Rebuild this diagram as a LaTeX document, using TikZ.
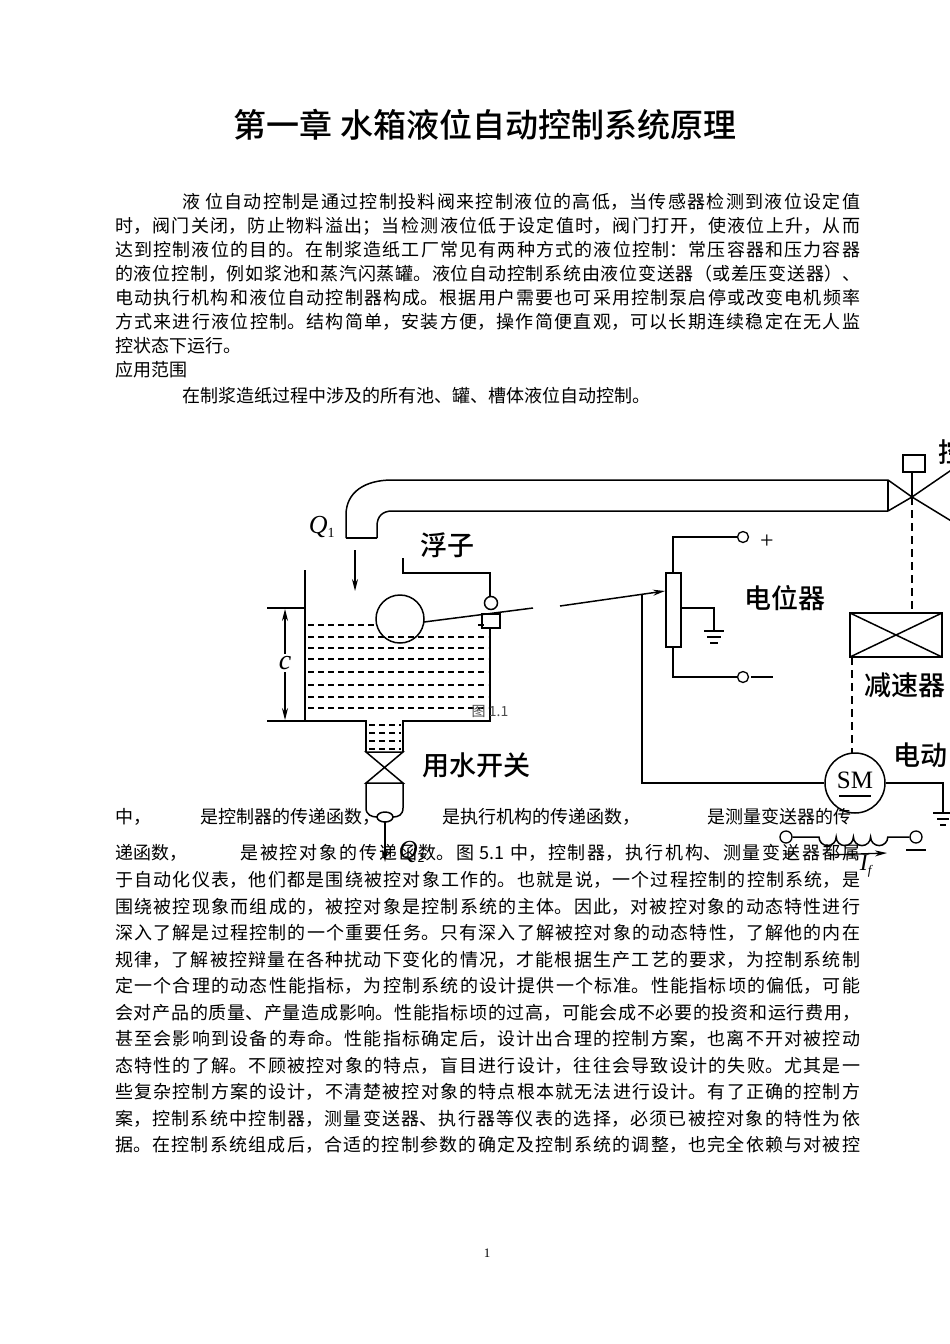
\documentclass[tikz,border=0pt]{standalone}
\usepackage{fontspec}
\setmainfont{Liberation Serif}
\newfontfamily\cjk{Noto Sans CJK SC}
\newfontfamily\cjkb{Noto Sans CJK SC Medium}
\usetikzlibrary{arrows.meta}
\XeTeXlinebreaklocale "zh"
\XeTeXlinebreakskip=0pt plus 3pt
\begin{document}
\begin{tikzpicture}[x=1pt,y=-1pt,
  dl/.style={line width=1.5pt,black},
  wl/.style={line width=1.3pt,dashed,dash pattern=on 6pt off 4pt},
  lab/.style={font=\cjkb\fontsize{27}{30}\selectfont,inner sep=0},
  bt/.style={font=\cjk\fontsize{18}{24}\selectfont,inner sep=0,anchor=west},
  arr/.style={-{Stealth[length=12pt,width=6pt]}}]
\useasboundingbox (0,0) rectangle (950,1344);
\fill[white] (0,0) rectangle (950,1344);
\clip (0,0) rectangle (950,1344);
\newcommand\jl[3]{\node[bt] at (#1,#2) {\parbox{\dimexpr860pt-#1pt\relax}{\parfillskip=0pt #3}};}
% title
\node[font=\cjkb\fontsize{33}{36}\selectfont,inner sep=0] (title) at (485,125) {第一章 水箱液位自动控制系统原理};
% top paragraph
\jl{182}{202}{液\ 位自动控制是通过控制投料阀来控制液位的高低，当传感器检测到液位设定值}
\jl{115}{226}{时，阀门关闭，防止物料溢出；当检测液位低于设定值时，阀门打开，使液位上升，从而}
\jl{115}{250}{达到控制液位的目的。在制浆造纸工厂常见有两种方式的液位控制：常压容器和压力容器}
\jl{115}{274}{的液位控制，例如浆池和蒸汽闪蒸罐。液位自动控制系统由液位变送器（或差压变送器）、}
\jl{115}{298}{电动执行机构和液位自动控制器构成。根据用户需要也可采用控制泵启停或改变电机频率}
\jl{115}{322}{方式来进行液位控制。结构简单，安装方便，操作简便直观，可以长期连续稳定在无人监}
\node[bt] (t7) at (115,346) {控状态下运行。};
\node[bt] (t8) at (115,370) {应用范围};
\node[bt] (t9) at (182,396) {在制浆造纸过程中涉及的所有池、罐、槽体液位自动控制。};
% ---------- diagram ----------
% pipe
\draw[dl] (346,538) -- (346,515) .. controls (346,492) and (365,480) .. (392,480) -- (888,480);
\draw[dl] (377,538) -- (377,526) .. controls (377,516) and (383,511) .. (392,511) -- (888,511);
\draw[dl] (346,538) -- (377,538);
\draw[dl] (888,480) -- (888,511);
\coordinate (vc) at (912,497);
\draw[dl] (888,480) -- (vc) -- (966,530);
\draw[dl] (888,511) -- (vc) -- (966,460);
\draw[dl] (vc) -- (912,472);
\draw[dl] (903,455) rectangle (925,472);
\node[lab] (kong) at (952,452) {控};
\draw[dl,dashed,dash pattern=on 8pt off 5pt] (vc) -- (912,613);
% reducer
\draw[dl] (850,613) rectangle (942,657);
\draw[dl] (850,613) -- (942,657) (850,657) -- (942,613);
\node[lab] (jsq) at (905,685) {减速器};
\draw[dl,dashed,dash pattern=on 8pt off 5pt] (852,657) -- (852,753);
% motor
\node[circle,draw,line width=1.5pt,minimum size=60pt,inner sep=0] (sm) at (855,783) {};
\node[font=\fontsize{25}{28}\selectfont,inner sep=0] at (855,780) {SM};
\draw[dl] (839,796) -- (871,796);
\node[lab,anchor=west] (dd) at (893,755) {电动};
\draw[dl] (sm.east) -- (943,783) -- (943,813);
\draw[dl] (933,813) -- (953,813) (937,819) -- (949,819) (940,825) -- (946,825);
\draw[dl] (sm.west) -- (642,783) -- (642,595);
% potentiometer
\draw[dl] (666,573) rectangle (681,647);
\draw[dl] (673,573) -- (673,537) -- (737,537);
\node[circle,draw,line width=1.3pt,minimum size=11pt,inner sep=0] (pp) at (743,537) {};
\node[font=\fontsize{24}{24}\selectfont,inner sep=0] at (767,542) {+};
\draw[dl] (673,647) -- (673,677) -- (737,677);
\node[circle,draw,line width=1.3pt,minimum size=11pt,inner sep=0] (pm) at (743,677) {};
\draw[dl] (751,677) -- (773,677);
\draw[dl] (681,608) -- (714,608) -- (714,631);
\draw[dl] (704,631) -- (724,631) (707,637) -- (721,637) (710,643) -- (718,643);
\node[lab] (dwq) at (785,598) {电位器};
% lever and float
\draw[dl] (400,619) ellipse (24 and 24);
\draw[dl] (424,622) -- (533,608);
\draw[dl,arr] (560,606) -- (665,591);
\draw[dl,fill=white] (491,603) circle (6.5);
\draw[dl] (482,614) rectangle (500,628);
\draw[dl] (403,558) -- (403,573) -- (490,573) -- (490,596);
\node[lab] (fz) at (447,545) {浮子};
% Q1
\node[font=\itshape\fontsize{26}{28}\selectfont,inner sep=0] (q1) at (322,527) {Q\textsubscript{\upshape\fontsize{14}{14}\selectfont 1}};
\draw[dl,arr] (355,550) -- (355,591);
% tank
\draw[dl] (305,570) -- (305,721) -- (366,721) -- (366,752);
\draw[dl] (490,628) -- (490,721) -- (403,721) -- (403,752);
\draw[wl] (308,625) -- (377,625) (478,625) -- (488,625);
\foreach \yy in {637,648,659,672,685,697,708} \draw[wl] (308,\yy) -- (488,\yy);
\foreach \yy in {725,733,741,749} \draw[wl] (369,\yy) -- (401,\yy);
\draw[dl] (366,752) -- (403,783) -- (366,783) -- (403,752) -- cycle;
\draw[dl] (366,783) -- (366,808) .. controls (366,815) and (372,817) .. (377,817);
\draw[dl] (403,783) -- (403,808) .. controls (403,815) and (398,817) .. (393,817);
\draw[dl] (385,817) ellipse (8 and 5);
\draw[dl,arr] (385,822) -- (385,862);
\node[font=\itshape\fontsize{26}{28}\selectfont,inner sep=0] (q2) at (412,852) {Q\textsubscript{\upshape\fontsize{14}{14}\selectfont 2}};
\node[lab] (ysk) at (476,765) {用水开关};
% dimension c
\draw[line width=1.1pt] (267,608) -- (305,608) (267,721) -- (305,721);
\draw[line width=1.3pt,{Stealth[length=12pt,width=6pt]}-{Stealth[length=12pt,width=6pt]}] (285,609) -- (285,720);
\node[fill=white,font=\itshape\fontsize{28}{28}\selectfont,inner sep=2pt] (c) at (285,663) {c};
\node[font=\cjk\fontsize{14}{14}\selectfont,inner sep=0,text=black!70] (fig) at (490,711) {图 1.1};
% coil
\node[circle,draw,line width=1.3pt,minimum size=12pt,inner sep=0] (c1) at (786,837) {};
\node[circle,draw,line width=1.3pt,minimum size=12pt,inner sep=0] (c2) at (916,837) {};
\draw[dl] (c1.east) -- (819,837) arc (180:0:8.6) arc (180:0:8.6) arc (180:0:8.6) arc (180:0:8.6) -- (c2.west);
\node[font=\fontsize{24}{24}\selectfont,inner sep=0] at (789,856) {+};
\draw[dl] (906,850) -- (926,850);
\draw[line width=1.3pt,arr] (828,855) -- (887,853);
\node[font=\itshape\fontsize{24}{24}\selectfont,inner sep=0] (if) at (866,866) {I\textsubscript{\fontsize{13}{13}\selectfont f}};
% interrupted lines
\node[bt] (a1) at (115,817) {中，};
\node[bt] (a2) at (200,817) {是控制器的传递函数，};
\node[bt] (a3) at (442,817) {是执行机构的传递函数，};
\node[bt] (a4) at (707,817) {是测量变送器的传};
\node[bt] (b1) at (115,853) {递函数，};
\jl{240}{853}{是被控对象的传递函数。图 5.1 中，控制器，执行机构、测量变送器都属}
% bottom paragraph
\jl{115}{880}{于自动化仪表，他们都是围绕被控对象工作的。也就是说，一个过程控制的控制系统，是}
\jl{115}{906.5}{围绕被控现象而组成的，被控对象是控制系统的主体。因此，对被控对象的动态特性进行}
\jl{115}{933}{深入了解是过程控制的一个重要任务。只有深入了解被控对象的动态特性，了解他的内在}
\jl{115}{959.5}{规律，了解被控辩量在各种扰动下变化的情况，才能根据生产工艺的要求，为控制系统制}
\jl{115}{986}{定一个合理的动态性能指标，为控制系统的设计提供一个标准。性能指标顷的偏低，可能}
\jl{115}{1012.5}{会对产品的质量、产量造成影响。性能指标顷的过高，可能会成不必要的投资和运行费用，}
\jl{115}{1039}{甚至会影响到设备的寿命。性能指标确定后，设计出合理的控制方案，也离不开对被控动}
\jl{115}{1065.5}{态特性的了解。不顾被控对象的特点，盲目进行设计，往往会导致设计的失败。尤其是一}
\jl{115}{1092}{些复杂控制方案的设计，不清楚被控对象的特点根本就无法进行设计。有了正确的控制方}
\jl{115}{1118.5}{案，控制系统中控制器，测量变送器、执行器等仪表的选择，必须已被控对象的特性为依}
\jl{115}{1145}{据。在控制系统组成后，合适的控制参数的确定及控制系统的调整，也完全依赖与对被控}
\node[font=\fontsize{13}{13}\selectfont,inner sep=0] (pg) at (487,1253) {1};
\end{tikzpicture}
\end{document}
